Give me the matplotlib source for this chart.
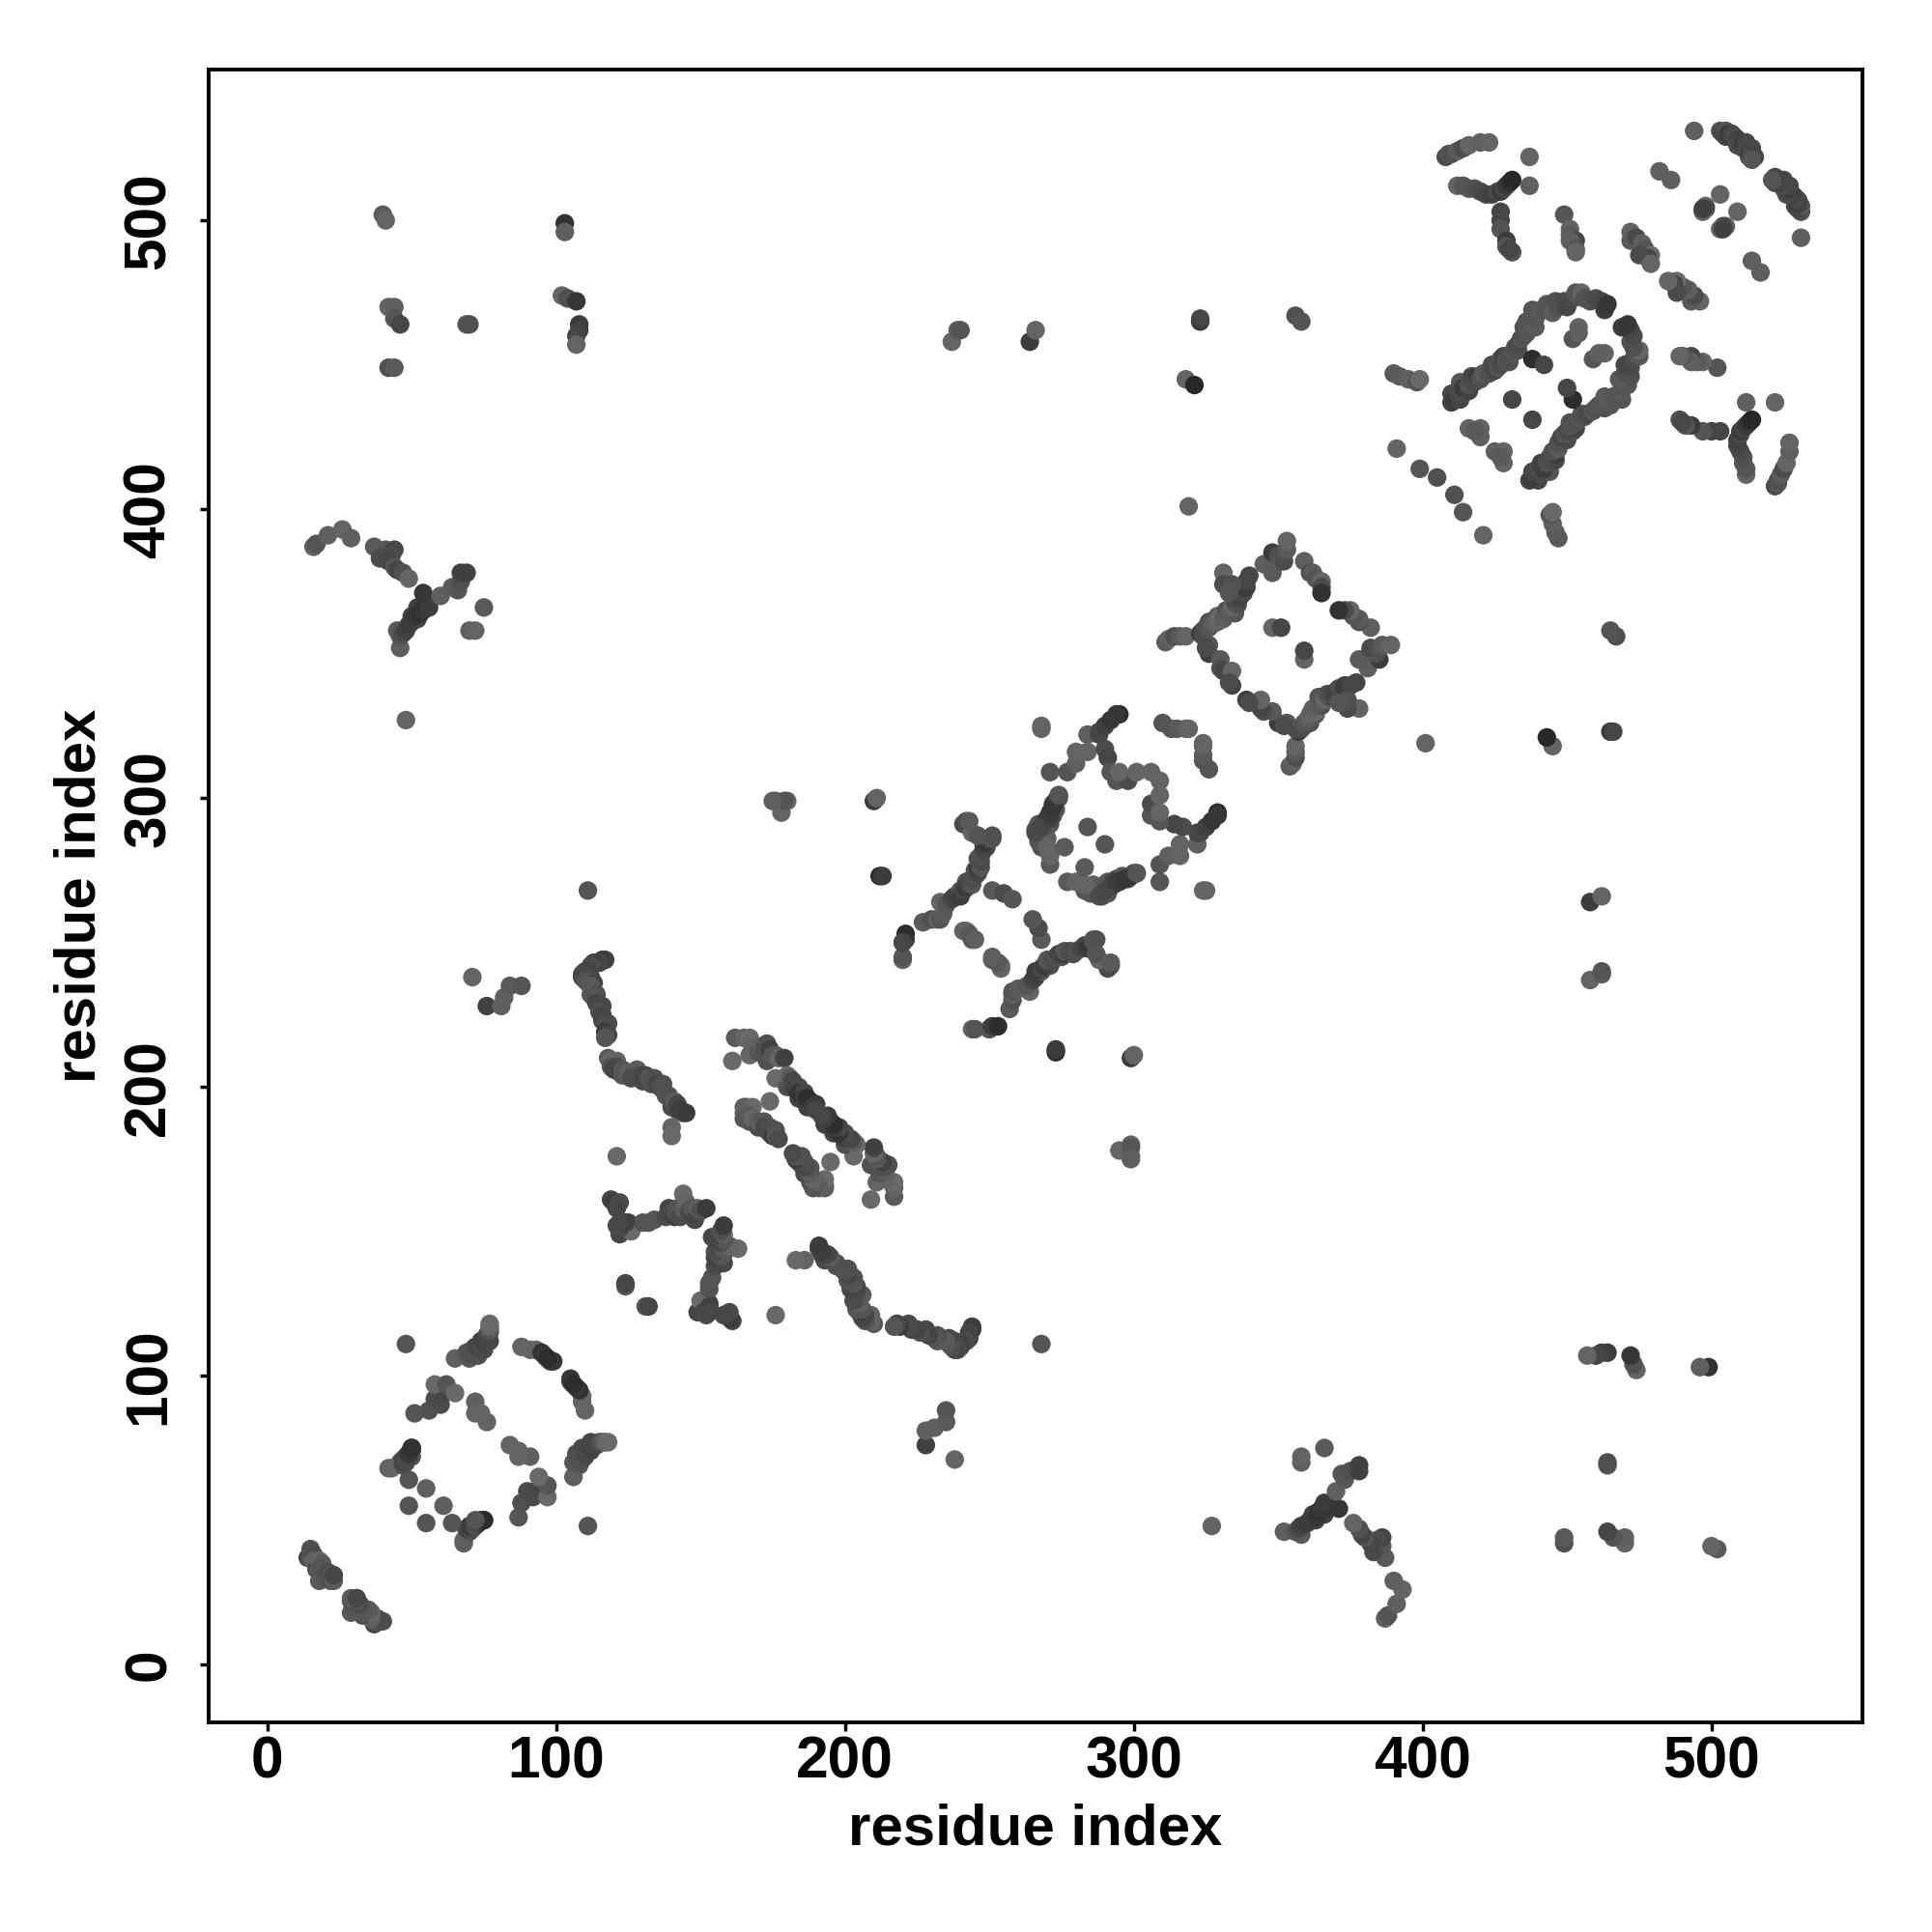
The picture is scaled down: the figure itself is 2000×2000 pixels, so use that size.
import matplotlib
matplotlib.use("Agg")
import matplotlib.pyplot as plt
import numpy as np

# contacts as (residue i, residue j, grey level), plot is mirrored over the diagonal
HAIRPIN_N = [(14, 37, 70), (15, 39, 70), (15, 40, 80), (15, 37, 85), (16, 38, 75), (16, 36, 95), (17, 33, 80),
             (18, 36, 100), (19, 35, 90), (18, 29, 90), (18, 33, 85), (20, 30, 85), (21, 32, 75), (22, 31, 85),
             (22, 29, 80), (23, 29, 90), (23, 31, 70)]
RING_A = [(48, 111, 85), (65, 106, 95), (69, 108, 85), (70, 106, 85), (70, 108, 80), (71, 109, 80), (72, 110, 75),
          (73, 107, 80), (73, 110, 70), (74, 111, 75), (74, 112, 70), (75, 109, 75), (75, 111, 70), (75, 112, 65),
          (76, 113, 70), (76, 114, 70), (77, 112, 70), (77, 115, 75), (77, 116, 85),
          (77, 117, 100), (77, 118, 105), (88, 110, 100), (91, 109, 100), (93, 109, 100), (95, 108, 50),
          (96, 107, 55), (98, 105, 65), (99, 105, 55), (97, 106, 45),
          (51, 87, 85), (56, 88, 80), (58, 92, 75), (60, 90, 75), (61, 94, 70), (58, 97, 105), (62, 97, 85),
          (65, 94, 105), (72, 91, 95), (72, 87, 100), (74, 87, 100), (76, 84, 100),
          (42, 68, 95), (46, 70, 80), (47, 69, 70), (47, 71, 75), (48, 70, 60), (48, 72, 80), (49, 73, 45),
          (49, 72, 70), (50, 74, 50), (50, 75, 45), (50, 72, 85), (49, 64, 85), (55, 61, 95), (49, 55, 85),
          (68, 43, 100), (69, 47, 80), (70, 47, 70), (71, 48, 75), (72, 49, 70), (73, 49, 55), (75, 50, 50)]
NEAR_B = [(119, 161, 70), (120, 160, 60), (122, 160, 75), (121, 158, 70), (125, 153, 60), (123, 150, 60),
          (122, 149, 70), (124, 152, 75), (125, 151, 85), (126, 150, 105), (130, 153, 85), (132, 153, 85),
          (134, 154, 85), (138, 155, 75), (139, 158, 70), (140, 156, 70), (141, 155, 65), (141, 157, 80),
          (142, 158, 85), (143, 155, 75), (144, 158, 90), (144, 163, 105), (145, 160, 100), (146, 157, 75),
          (147, 156, 70), (147, 158, 85), (148, 154, 70), (149, 158, 95), (150, 157, 80), (152, 158, 60),
          (124, 131, 85), (124, 132, 70), (122, 151, 70), (121, 152, 75), (124, 153, 65), (122, 153, 70),
          (121, 176, 105)]
STRAND_C = [(117, 244, 65), (116, 244, 60), (115, 243, 70), (113, 243, 65), (112, 242, 75), (110, 240, 70),
            (111, 240, 65), (109, 239, 75), (109, 238, 70), (112, 238, 70), (110, 237, 80), (111, 236, 85),
            (113, 236, 70), (112, 235, 90), (112, 232, 90), (114, 232, 80),
            (113, 231, 85), (114, 229, 70), (115, 228, 75), (116, 228, 70), (115, 226, 80), (116, 225, 70),
            (116, 223, 70), (117, 222, 75), (118, 222, 75), (117, 219, 60), (118, 218, 70), (117, 217, 85),
            (118, 210, 90), (119, 209, 100), (121, 209, 100),
            (119, 207, 80), (121, 207, 75), (120, 206, 70), (122, 205, 65), (123, 206, 85), (123, 204, 85),
            (125, 205, 95), (127, 205, 90), (128, 206, 90), (126, 203, 75),
            (129, 204, 75), (130, 202, 70), (131, 204, 70), (132, 203, 85), (133, 201, 80), (134, 203, 80),
            (135, 201, 70), (136, 200, 75), (137, 201, 80),
            (137, 199, 80), (138, 197, 85), (139, 197, 80), (140, 193, 75), (141, 195, 90), (142, 192, 70),
            (142, 194, 70), (143, 192, 60),
            (144, 191, 65), (145, 191, 60), (140, 186, 100), (140, 183, 105)]
HAIRPIN_D = [(162, 217, 90), (165, 217, 100), (167, 217, 105), (161, 209, 105), (167, 211, 100), (168, 214, 100),
             (170, 212, 85), (171, 214, 95), (172, 213, 80), (173, 215, 80), (173, 209, 80), (174, 213, 65),
             (175, 211, 90), (176, 211, 85), (177, 210, 100),
             (179, 210, 65), (176, 203, 105), (180, 200, 80), (180, 204, 105), (181, 203, 90), (182, 202, 70),
             (182, 200, 70), (183, 199, 65), (184, 200, 75), (184, 196, 70),
             (184, 198, 55), (185, 197, 50), (186, 198, 70), (186, 196, 60), (187, 193, 65), (187, 195, 60),
             (188, 194, 70), (187, 196, 45), (188, 195, 45), (189, 193, 60), (190, 194, 60), (190, 192, 70),
             (165, 193, 90), (166, 193, 95), (168, 193, 105), (165, 191, 95), (165, 189, 85), (167, 190, 90),
             (167, 188, 85), (168, 189, 100), (170, 186, 75), (170, 188, 90), (171, 187, 95), (172, 188, 85),
             (172, 186, 75), (173, 185, 70), (174, 186, 80), (174, 184, 75),
             (175, 183, 60), (176, 185, 80), (176, 183, 85), (177, 182, 75), (174, 195, 105)]
HELIX_E = [(220, 244, 100), (220, 245, 85), (220, 250, 85), (221, 251, 60), (221, 253, 45), (227, 257, 90),
           (230, 258, 80), (232, 258, 95), (233, 258, 85), (234, 260, 90), (233, 264, 100), (235, 263, 85),
           (237, 265, 70), (238, 266, 65), (240, 268, 85), (240, 266, 60), (241, 268, 70), (242, 271, 80),
           (242, 269, 60), (243, 270, 70), (244, 270, 85),
           (244, 272, 75), (245, 275, 80), (245, 273, 80), (246, 274, 70), (246, 276, 60), (247, 276, 85),
           (246, 279, 80), (247, 278, 75), (247, 280, 80), (249, 283, 75),
           (248, 282, 70), (248, 284, 60), (249, 285, 55), (250, 286, 75), (251, 286, 85), (251, 287, 80),
           (242, 292, 80), (241, 291, 75), (244, 288, 100), (246, 287, 85),
           (241, 254, 100), (242, 254, 100), (243, 253, 90), (244, 251, 85), (245, 251, 95),
           (251, 268, 90), (255, 267, 75), (258, 265, 85),
           (243, 292, 90), (250, 220, 70)]
HELIX_F = [(266, 289, 80), (267, 288, 75), (267, 285, 85), (268, 286, 85), (269, 287, 70), (269, 289, 85),
           (267, 291, 85), (269, 291, 75), (270, 290, 70), (270, 286, 90), (270, 293, 60), (271, 291, 85),
           (271, 293, 65), (271, 295, 60), (272, 294, 75), (272, 296, 70), (273, 296, 85), (272, 298, 80),
           (273, 299, 50), (274, 300, 75),
           (274, 301, 70), (268, 283, 85), (270, 283, 100), (271, 277, 90), (271, 280, 100), (276, 283, 90),
           (284, 290, 85), (266, 288, 75), (268, 290, 70), (271, 294, 60), (272, 297, 55), (274, 301, 85),
           (271, 309, 85), (277, 309, 85), (280, 312, 95), (280, 316, 100), (284, 316, 100), (284, 322, 95),
           (288, 322, 70), (288, 323, 70), (290, 325, 65), (292, 327, 55), (295, 329, 45), (294, 329, 55),
           (290, 317, 75), (291, 314, 70), (292, 309, 85), (294, 306, 85), (298, 306, 75), (301, 309, 100),
           (295, 309, 100), (306, 309, 100),
           (310, 326, 85), (313, 324, 85), (315, 324, 90), (318, 324, 95), (319, 324, 100),
           (268, 324, 100), (268, 325, 100)]
RING_G = [(311, 354, 90), (312, 355, 95), (314, 356, 80), (316, 356, 90), (318, 356, 100), (323, 357, 60),
          (324, 358, 70), (324, 356, 75), (325, 359, 80), (326, 359, 85), (326, 361, 80), (327, 360, 90),
          (328, 361, 95), (329, 363, 85), (329, 361, 100),
          (330, 363, 105), (331, 362, 95), (332, 365, 80), (333, 364, 90), (335, 364, 85), (334, 366, 100),
          (335, 368, 75), (336, 367, 80),
          (336, 369, 70), (337, 372, 75), (337, 370, 65), (338, 371, 75), (339, 373, 65), (338, 373, 60),
          (339, 375, 70), (340, 377, 70),
          (331, 378, 100), (331, 374, 75), (334, 374, 80), (333, 371, 85),
          (326, 350, 60), (326, 353, 85), (325, 352, 75), (330, 348, 90), (330, 345, 80), (331, 344, 70),
          (334, 344, 100), (334, 339, 65), (333, 340, 75),
          (345, 381, 95), (348, 378, 90), (348, 385, 60), (350, 384, 80), (351, 382, 85), (352, 382, 75),
          (352, 385, 80), (353, 386, 90), (353, 389, 100),
          (359, 382, 95), (361, 378, 80), (362, 378, 90), (363, 376, 85), (365, 375, 100), (365, 373, 75),
          (365, 371, 50), (348, 359, 100), (351, 359, 70)]
RING_H = [(408, 522, 75), (409, 523, 85), (410, 523, 80), (412, 524, 90), (414, 525, 75), (416, 526, 100),
          (420, 527, 95), (423, 527, 100), (437, 522, 100),
          (412, 512, 100), (414, 512, 85), (416, 511, 85), (418, 511, 80), (420, 510, 75), (422, 509, 70),
          (424, 509, 65), (426, 510, 75), (427, 510, 60), (428, 511, 70), (429, 512, 60), (430, 513, 50),
          (431, 514, 40), (437, 512, 95),
          (427, 503, 70), (427, 500, 70), (427, 497, 85), (429, 493, 60), (429, 491, 85), (431, 489, 80),
          (430, 490, 70),
          (449, 502, 85), (451, 497, 100), (451, 495, 90), (453, 493, 70), (451, 493, 95), (453, 490, 85),
          (453, 489, 100)]
SHEET_J = [(494, 531, 95), (503, 531, 80), (504, 530, 70), (505, 531, 85), (505, 529, 70), (506, 530, 60),
           (507, 530, 70), (508, 529, 75),
           (509, 528, 65), (509, 526, 75), (510, 527, 70), (511, 525, 75), (511, 527, 60), (512, 527, 70),
           (512, 525, 75), (513, 522, 75), (513, 524, 65), (514, 525, 70), (514, 523, 70),
           (515, 522, 70), (514, 521, 85),
           (482, 517, 95), (486, 514, 95), (503, 509, 100), (498, 505, 100), (498, 504, 70), (497, 503, 100),
           (497, 504, 65),
           (472, 496, 100), (472, 493, 90), (474, 494, 75), (476, 492, 95), (477, 490, 85), (479, 488, 105),
           (478, 487, 70), (475, 488, 75), (479, 485, 100)]
LOOP_K = [(410, 440, 70), (410, 437, 65), (411, 438, 60), (412, 441, 75), (413, 438, 70), (413, 444, 85),
          (414, 440, 75), (414, 442, 60),
          (416, 441, 65), (416, 443, 80), (417, 446, 70), (418, 444, 75), (419, 446, 60), (420, 445, 80),
          (421, 447, 90), (423, 447, 80), (424, 450, 75),
          (425, 448, 70), (426, 449, 85), (427, 452, 80), (427, 450, 75), (428, 453, 70), (429, 451, 85),
          (430, 451, 80), (430, 453, 80),
          (431, 454, 85), (432, 456, 80), (433, 455, 80), (433, 457, 75), (434, 459, 85), (435, 460, 80),
          (435, 463, 80), (436, 461, 85), (436, 465, 85),
          (437, 463, 85), (439, 463, 90), (439, 466, 85), (438, 469, 85), (440, 468, 85), (441, 469, 90),
          (442, 469, 85), (443, 471, 85), (446, 472, 80),
          (445, 468, 90), (447, 470, 80), (449, 472, 75), (450, 470, 70), (452, 473, 75), (453, 475, 85),
          (454, 474, 85), (455, 475, 100), (456, 473, 80), (458, 472, 80),
          (460, 473, 75), (462, 472, 70), (463, 469, 60), (464, 471, 55),
          (438, 452, 45), (442, 450, 70), (431, 438, 70), (416, 428, 100), (420, 428, 100), (420, 425, 95),
          (418, 427, 90), (454, 463, 100), (452, 459, 85), (454, 461, 95),
          (391, 421, 100), (399, 414, 85), (405, 411, 80),
          (390, 447, 90), (392, 446, 90), (395, 445, 95), (398, 444, 85), (399, 445, 105)]
FAR_M = [(16, 387, 95), (17, 388, 85), (21, 391, 95), (26, 393, 100), (29, 390, 95), (37, 387, 90), (41, 386, 85),
         (44, 386, 70), (39, 383, 75), (43, 384, 75), (42, 382, 70), (44, 380, 85), (45, 379, 70), (47, 378, 80),
         (49, 376, 100),
         (46, 352, 95), (45, 358, 90), (46, 356, 85), (47, 357, 75), (48, 358, 65), (49, 360, 60), (50, 363, 70),
         (50, 361, 60), (52, 362, 65), (52, 366, 65),
         (51, 363, 55), (53, 364, 50), (54, 367, 60), (54, 365, 55), (55, 367, 50), (56, 366, 60), (54, 371, 55),
         (60, 370, 95),
         (64, 373, 90), (66, 372, 85), (67, 375, 80), (67, 378, 65), (69, 378, 65), (75, 366, 90), (70, 358, 95),
         (72, 358, 100), (48, 327, 100)]
ISOLATED = [(40, 502, 90), (41, 500, 100), (42, 470, 100), (44, 470, 95), (44, 466, 85), (46, 464, 70), (42, 449, 80),
            (44, 449, 90), (69, 464, 85), (70, 464, 80), (103, 499, 50), (103, 496, 95), (102, 474, 100), (104, 473, 80),
            (107, 472, 55), (108, 464, 60), (108, 462, 65), (107, 460, 70), (107, 457, 100), (111, 268, 85),
            (71, 238, 100), (76, 228, 65), (81, 228, 95), (82, 231, 95), (84, 235, 90), (88, 235, 85),
            (176, 299, 90), (180, 299, 100), (178, 295, 100), (179, 299, 85), (175, 299, 95),
            (210, 299, 60), (211, 300, 100), (212, 273, 45), (213, 273, 60),
            (237, 458, 100), (239, 462, 95), (240, 462, 85), (264, 458, 60), (266, 462, 100),
            (356, 467, 80), (358, 465, 85), (318, 445, 100), (321, 443, 40), (323, 465, 55), (323, 466, 70),
            (319, 401, 100)]
CONTACTS = [HAIRPIN_N, RING_A, NEAR_B, STRAND_C, HAIRPIN_D, HELIX_E, HELIX_F, RING_G, RING_H, SHEET_J, LOOP_K,
            FAR_M, ISOLATED]
TICKS = [0, 100, 200, 300, 400, 500]

plt.rcParams["font.family"] = ["Liberation Sans", "DejaVu Sans"]
plt.rcParams["font.weight"] = "bold"

rows = np.array([row for group in CONTACTS for row in group], dtype=float)
# both triangles of the map, same grey
x = np.concatenate([rows[:, 0], rows[:, 1]])
y = np.concatenate([rows[:, 1], rows[:, 0]])
grey = np.concatenate([rows[:, 2], rows[:, 2]])

fig = plt.figure(figsize=(10, 10), dpi=200)
ax = fig.add_axes([216 / 2000, 1 - 1783 / 2000, (1927.5 - 216) / 2000, (1783 - 71.8) / 2000])
ax.scatter(x, y, s=48, c=grey, cmap="gray", vmin=0, vmax=255, linewidths=0, zorder=3)
ax.set_xlim(-20.3, 552.1)
ax.set_ylim(-20, 552.3)
ax.set_xticks(TICKS)
ax.set_yticks(TICKS)
ax.tick_params(length=3.4, width=1.25, labelsize=21.8)
ax.tick_params(axis="x", pad=1.6)
ax.tick_params(axis="y", pad=8.2)
for label in ax.get_yticklabels():
    label.set_rotation(90)
    label.set_va("center")
ax.set_xlabel("residue index", fontsize=21.6, fontweight="bold", labelpad=4.4)
ax.set_ylabel("residue index", fontsize=21.6, fontweight="bold", labelpad=5.8)
for spine in ax.spines.values():
    spine.set_linewidth(1.4)

fig.savefig("out.png", dpi=200)
